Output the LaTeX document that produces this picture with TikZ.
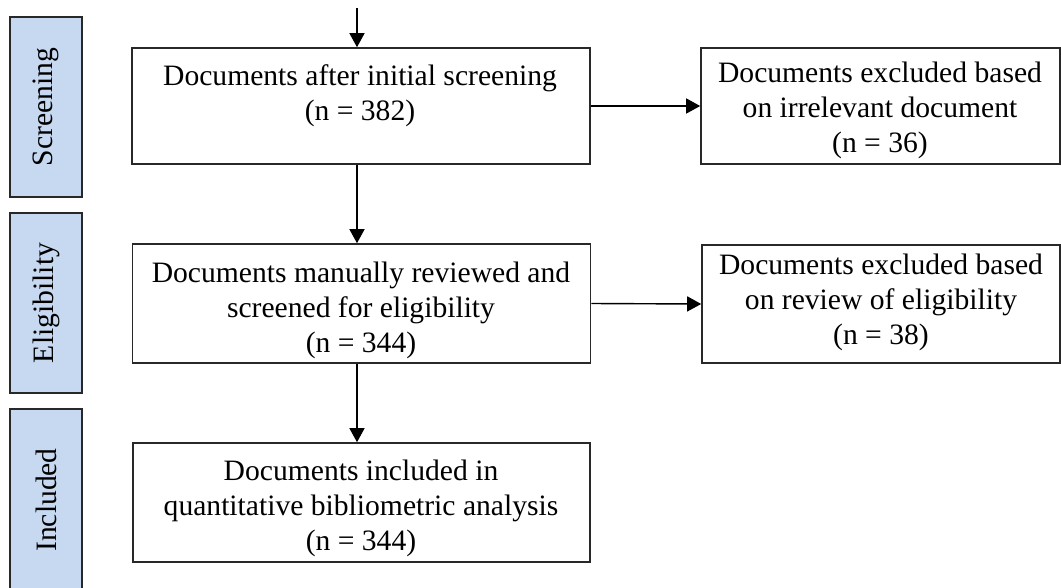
\documentclass[tikz,border=0pt]{standalone}
\usepackage{fontspec}
\setmainfont{Liberation Serif}
\usetikzlibrary{arrows.meta}
\definecolor{barblue}{RGB}{198,217,241}
\definecolor{bordergray}{RGB}{40,40,40}
\begin{document}
\begin{tikzpicture}[x=1pt,y=-1pt,
  every node/.style={font=\fontsize{29.6}{35}\selectfont},
  bar/.style={draw=bordergray,line width=1.6pt,fill=barblue,inner sep=0pt},
  boxrect/.style={draw=bordergray,line width=1.6pt,inner sep=0pt},
  boxtext/.style={align=center,inner sep=0pt},
  barlabel/.style={rotate=90,inner sep=0pt},
  arr/.style={line width=1.4pt,draw=black,-{Triangle[width=15pt,length=14pt]}}]
\useasboundingbox (0,0) rectangle (1061,587);
\clip (0,0) rectangle (1061,587);
% stage bars
\node[bar,minimum width=72pt,minimum height=180pt] (sbar) at (46,107) {};
\node[bar,minimum width=72pt,minimum height=180pt] (ebar) at (46,303) {};
\node[bar,minimum width=72pt,minimum height=190pt] (ibar) at (46,504) {};
\node[barlabel] (slab) at (sbar.center) {Screening};
\node[barlabel] (elab) at (ebar.center) {Eligibility};
\node[barlabel] (ilab) at (46,500) {Included};
% main boxes
\node[boxrect,minimum width=458pt,minimum height=116pt] (b1) at (361,106) {};
\node[boxrect,minimum width=458pt,minimum height=119pt] (b2) at (361.5,303.5) {};
\node[boxrect,minimum width=457pt,minimum height=119pt] (b3) at (361.5,502.5) {};
\node[boxrect,minimum width=359pt,minimum height=116pt] (x1) at (880.5,106) {};
\node[boxrect,minimum width=358pt,minimum height=118pt] (x2) at (881,304) {};
% texts
\node[boxtext] (t1) at (360,95.5) {Documents after initial screening\\(n = 382)};
\node[boxtext] (t2) at (361,310) {Documents manually reviewed and\\screened for eligibility\\(n = 344)};
\node[boxtext] (t3) at (361,508) {Documents included in\\quantitative bibliometric analysis\\(n = 344)};
\node[boxtext] (tx1) at (880,110) {Documents excluded based\\on irrelevant document\\(n = 36)};
\node[boxtext] (tx2) at (881,302) {Documents excluded based\\on review of eligibility\\(n = 38)};
% connectors
\coordinate (top) at (357,8);
\draw[arr] (top) -- (top |- b1.north);
\draw[arr] (b1.south -| top) -- (top |- b2.north);
\draw[arr] (b2.south -| top) -- (top |- b3.north);
\draw[arr] (b1.east) -- (x1.west);
\draw[arr] (b2.east) -- (x2.west);
\end{tikzpicture}
\end{document}
